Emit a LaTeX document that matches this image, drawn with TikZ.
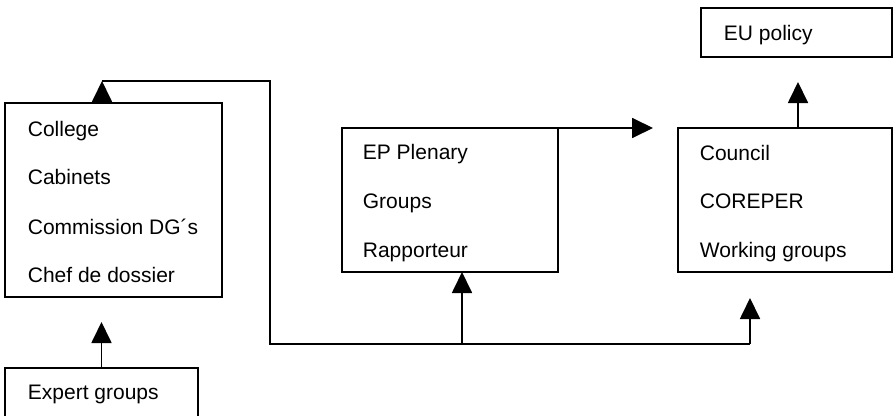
\documentclass[tikz,border=0pt]{standalone}
\usepackage{fontspec}
\setmainfont{Liberation Sans}
\usetikzlibrary{arrows.meta}
\begin{document}
\begin{tikzpicture}[x=1pt, y=-1pt, line width=1.8pt, line join=miter,
  box/.style={draw, anchor=north west, inner sep=0pt, outer sep=0pt},
  lbl/.style={anchor=base west, inner sep=0pt, font=\fontsize{21}{25}\selectfont},
  flow/.style={-{Triangle[width=20pt,length=21pt]}}]
\useasboundingbox (0,0) rectangle (893,415);
\clip (0,0) rectangle (893,415);

% boxes
\node[box, minimum width=217pt, minimum height=194pt] (comm) at (5,103) {};
\node[box, minimum width=193pt, minimum height=60pt] (expert) at (5,368) {};
\node[box, minimum width=216pt, minimum height=144pt] (ep) at (342,128) {};
\node[box, minimum width=214pt, minimum height=144pt] (council) at (678,128) {};
\node[box, minimum width=191pt, minimum height=49pt] (eu) at (701,8) {};

% box contents
\node[lbl] (t1) at (27,136) {College};
\node[lbl] (t2) at (27,184) {Cabinets};
\node[lbl] (t3) at (27,234) {Commission DG´s};
\node[lbl] (t4) at (27,282) {Chef de dossier};
\node[lbl] (t5) at (27,399) {Expert groups};
\node[lbl] (t6) at (362,159) {EP Plenary};
\node[lbl] (t7) at (362,208) {Groups};
\node[lbl] (t8) at (362,257) {Rapporteur};
\node[lbl] (t9) at (699,160) {Council};
\node[lbl] (t10) at (699,208) {COREPER};
\node[lbl] (t11) at (699,257) {Working groups};
\node[lbl] (t12) at (723,40) {EU policy};

% connector points
\coordinate (commOut) at (102,81);
\coordinate (busW) at (270,344);
\coordinate (busEP) at (462,344);
\coordinate (busE) at (750,344);
\coordinate (epOut) at (653,128);
\coordinate (cuUp) at (798,128);

% connectors
\draw[flow, shorten >=25pt] (expert.north) -- (expert.north |- comm.south);
\draw[flow] (comm.north -| commOut) -- (commOut);
\draw (commOut) -| (busW) -- (busE);
\draw[flow] (busEP) -- (ep.south -| busEP);
\draw[flow, shorten >=26pt] (busE) -- (council.south -| busE);
\draw[flow] (ep.north east) -- (epOut);
\draw[flow, shorten >=25pt] (cuUp) -- (cuUp |- eu.south);
\end{tikzpicture}
\end{document}
